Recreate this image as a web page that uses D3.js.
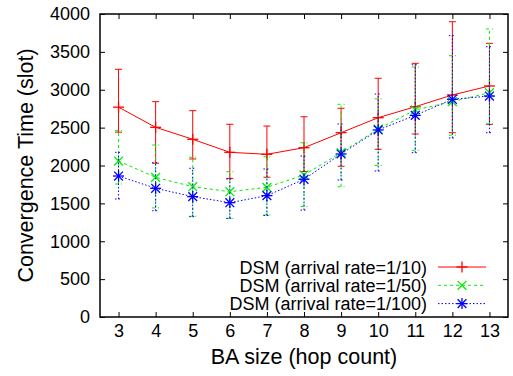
<!DOCTYPE html>
<html>
<head>
<meta charset="utf-8">
<script src="https://cdn.jsdelivr.net/npm/d3@7"></script>
<style>
  body { margin: 0; background: #fff; }
  svg { display: block; font-family: "Liberation Sans", Arial, sans-serif; }
</style>
</head>
<body>
<svg id="chart"></svg>
<script>
// BA size (hop count)
const hops = [3, 4, 5, 6, 7, 8, 9, 10, 11, 12, 13];

// arrival rate = 1/10
const rate10 = [2770, 2504, 2346, 2174, 2148, 2235, 2433, 2631, 2776, 2931, 3050];
const rate10Lo = [2440, 2030, 2086, 1830, 1845, 1920, 1990, 2214, 2416, 2433, 2543];
const rate10Hi = [3270, 2843, 2724, 2544, 2521, 2644, 2755, 3151, 3349, 3898, 3613];

// arrival rate = 1/50
const rate50 = [2059, 1844, 1720, 1654, 1712, 1875, 2170, 2482, 2733, 2843, 2961];
const rate50Lo = [1756, 1440, 1330, 1300, 1347, 1460, 1720, 2000, 2200, 2400, 2550];
const rate50Hi = [2460, 2270, 2108, 1918, 2116, 2300, 2808, 2880, 3300, 3450, 3802];

// arrival rate = 1/100
const rate100 = [1861, 1699, 1589, 1509, 1602, 1818, 2152, 2469, 2662, 2874, 2917];
const rate100Lo = [1558, 1403, 1324, 1303, 1340, 1412, 1808, 1927, 2169, 2363, 2433];
const rate100Hi = [2174, 2037, 1963, 1822, 1954, 2125, 2548, 2944, 3330, 3714, 3568];

const yTicks = [0, 500, 1000, 1500, 2000, 2500, 3000, 3500, 4000];

const w = 513;
const h = 376;
const pLeft = 100, pRight = 508, pTop = 14, pBottom = 317;

const series = [
  { name: "DSM (arrival rate=1/10)", mid: rate10, lo: rate10Lo, hi: rate10Hi, color: "#ff0000", dash: null, mark: "plus" },
  { name: "DSM (arrival rate=1/50)", mid: rate50, lo: rate50Lo, hi: rate50Hi, color: "#00ee00", dash: "3,3", mark: "cross" },
  { name: "DSM (arrival rate=1/100)", mid: rate100, lo: rate100Lo, hi: rate100Hi, color: "#0000ff", dash: "1.5,2", mark: "star" }
];

const xScale = d3.scaleLinear().domain([2.5, 13.5]).range([pLeft, pRight]);
const yScale = d3.scaleLinear().domain([0, 4000]).range([pBottom, pTop]);

const svg = d3.select("#chart").attr("width", w).attr("height", h);

// marker drawing
const drawMark = (g, type, cx, cy, color) => {
  const s = 5.5;
  const segs = [];
  if (type === "plus" || type === "star") {
    segs.push([cx - s, cy, cx + s, cy], [cx, cy - s, cx, cy + s]);
  }
  if (type === "cross" || type === "star") {
    const d = s * 0.8;
    segs.push([cx - d, cy - d, cx + d, cy + d], [cx - d, cy + d, cx + d, cy - d]);
  }
  segs.forEach((p) => {
    g.append("line")
      .attr("x1", p[0]).attr("y1", p[1]).attr("x2", p[2]).attr("y2", p[3])
      .attr("stroke", color).attr("stroke-width", 1.3);
  });
};

const plot = svg.append("g");

series.forEach((s) => {
  const g = plot.append("g");
  // error bars
  hops.forEach((hp, i) => {
    const x = xScale(hp);
    g.append("line")
      .attr("x1", x).attr("x2", x)
      .attr("y1", yScale(s.lo[i])).attr("y2", yScale(s.hi[i]))
      .attr("stroke", s.color).attr("stroke-width", 1)
      .attr("stroke-dasharray", s.dash);
    [s.lo[i], s.hi[i]].forEach((v) => {
      g.append("line")
        .attr("x1", x - 3.5).attr("x2", x + 3.5)
        .attr("y1", yScale(v)).attr("y2", yScale(v))
        .attr("stroke", s.color).attr("stroke-width", 1)
        .attr("stroke-dasharray", s.dash);
    });
  });
  // line
  const line = d3.line().x((d, i) => xScale(hops[i])).y((d) => yScale(d));
  g.append("path")
    .datum(s.mid)
    .attr("d", line)
    .attr("fill", "none")
    .attr("stroke", s.color).attr("stroke-width", 1)
    .attr("stroke-dasharray", s.dash);
  hops.forEach((hp, i) => drawMark(g, s.mark, xScale(hp), yScale(s.mid[i]), s.color));
});

// axes, ticks pointing inward on all four sides
const styleAxis = (g) => {
  g.select(".domain").remove();
  g.selectAll(".tick line").attr("stroke", "#000").attr("stroke-width", 1);
  g.selectAll("text").attr("fill", "#000").style("font-size", "18px");
};

svg.append("g")
  .attr("transform", "translate(0," + pBottom + ")")
  .call(d3.axisBottom(xScale).tickValues(hops).tickFormat(d3.format("d")).tickSize(-5).tickPadding(7))
  .call(styleAxis);

svg.append("g")
  .attr("transform", "translate(0," + pTop + ")")
  .call(d3.axisTop(xScale).tickValues(hops).tickFormat("").tickSize(-5))
  .call(styleAxis);

svg.append("g")
  .attr("transform", "translate(" + pLeft + ",0)")
  .call(d3.axisLeft(yScale).tickValues(yTicks).tickFormat(d3.format("d")).tickSize(-5).tickPadding(10))
  .call(styleAxis);

svg.append("g")
  .attr("transform", "translate(" + pRight + ",0)")
  .call(d3.axisRight(yScale).tickValues(yTicks).tickFormat("").tickSize(-5))
  .call(styleAxis);

svg.selectAll("text").attr("font-family", "Liberation Sans, Arial, sans-serif");

// frame
svg.append("rect")
  .attr("x", pLeft).attr("y", pTop)
  .attr("width", pRight - pLeft).attr("height", pBottom - pTop)
  .attr("fill", "none").attr("stroke", "#000").attr("stroke-width", 1.5);

// axis titles
svg.append("text")
  .attr("x", (pLeft + pRight) / 2).attr("y", 364)
  .attr("text-anchor", "middle")
  .style("font-size", "21.5px")
  .text("BA size (hop count)");

svg.append("text")
  .attr("transform", "translate(33," + (pTop + pBottom) / 2 + ") rotate(-90)")
  .attr("text-anchor", "middle")
  .style("font-size", "21.5px")
  .text("Convergence Time (slot)");

// legend
const legend = svg.append("g");
series.forEach((s, i) => {
  const cy = 267 + i * 18.3;
  legend.append("text")
    .attr("x", 427).attr("y", cy + 6.5)
    .attr("text-anchor", "end")
    .style("font-size", "18px")
    .text(s.name);
  legend.append("line")
    .attr("x1", 438).attr("x2", 486).attr("y1", cy).attr("y2", cy)
    .attr("stroke", s.color).attr("stroke-width", 1)
    .attr("stroke-dasharray", s.dash);
  drawMark(legend, s.mark, 462, cy, s.color);
});
</script>
</body>
</html>
